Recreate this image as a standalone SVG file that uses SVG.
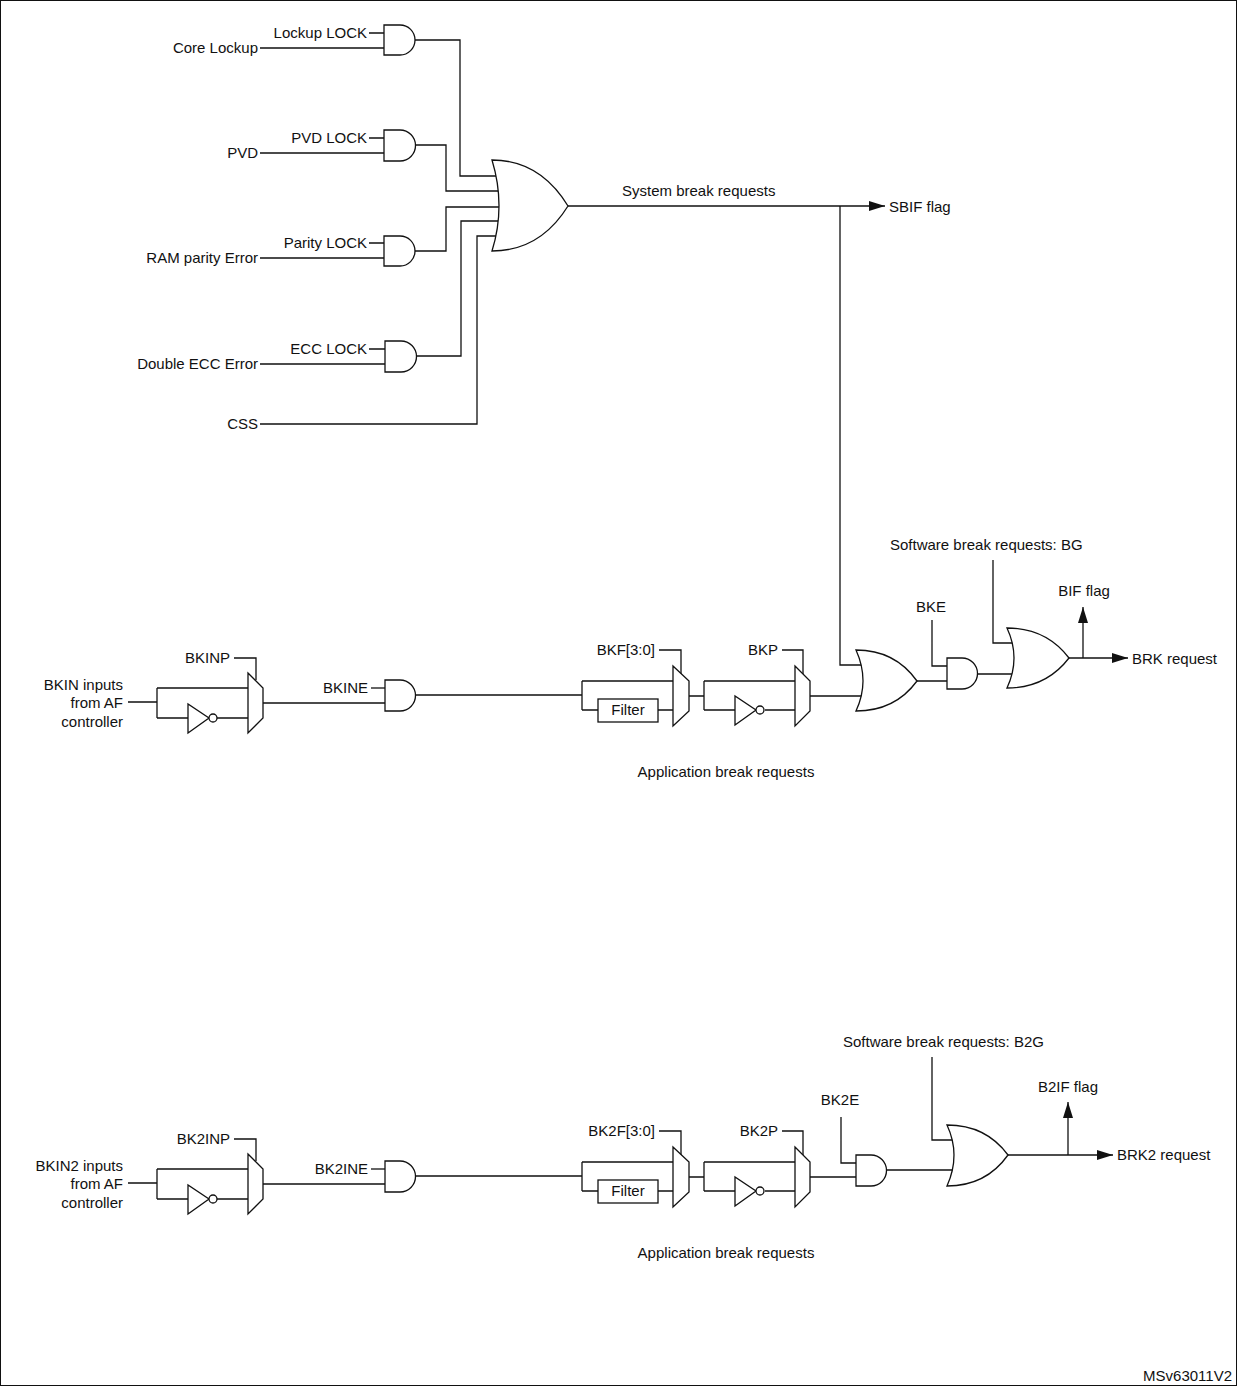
<svg xmlns="http://www.w3.org/2000/svg" width="1237" height="1386" viewBox="0 0 1237 1386">
<style>
text{font-family:"Liberation Sans",Arial,sans-serif;font-size:15px;fill:#111}
.r{text-anchor:end}.m{text-anchor:middle}
.w{fill:none;stroke:#111;stroke-width:1.3}
.g{fill:#fff;stroke:#111;stroke-width:1.3}
</style>
<defs>
<marker id="ar" viewBox="0 0 16 12" refX="16" refY="6" markerWidth="16" markerHeight="12" markerUnits="userSpaceOnUse" orient="auto"><path d="M0 1L16 6L0 11Z" fill="#111"/></marker>
<g id="bkrow">
<path class="w" d="M128 702H157M157 688V718M157 688H248M157 718H188M217 718H248M263 703H385M256 680V658H234"/>
<polygon class="g" points="188,704 188,733 209,718"/><circle class="g" cx="213" cy="718" r="4"/>
<polygon class="g" points="248,673 263,688 263,718 248,733"/>
<path class="w" d="M371 688H385"/>
<path class="g" d="M385 680H400A15.5 15.5 0 0 1 400 711H385Z"/>
<path class="w" d="M416 695H582M582 681V710M582 681H673M582 710H598M658 710H673M681 674V650H659"/>
<rect class="g" x="598" y="699" width="60" height="23"/>
<polygon class="g" points="673,666 689,681 689,711 673,726"/>
<path class="w" d="M689 696H704M704 681V710M704 681H795M704 710H735M765 710H795M803 674V650H782"/>
<polygon class="g" points="735,696 735,725 756,710"/><circle class="g" cx="760" cy="710" r="4"/>
<polygon class="g" points="795,666 810,681 810,711 795,726"/>
</g>
</defs>
<rect x="0.5" y="0.5" width="1236" height="1385" fill="#fff" stroke="#111"/>
<g id="connectors">
<path class="w" d="M260 48H384M369 33H384M415 40H460V176H505"/>
<path class="w" d="M260 153H384M369 138H384M415 145H446V191H505"/>
<path class="w" d="M260 258H384M369 243H384M415 251H446V207H505"/>
<path class="w" d="M260 364H385M369 349H385M416 356H461V221H505"/>
<path class="w" d="M260 424H477V236H505"/>
<path class="w" d="M568 206H885" marker-end="url(#ar)"/>
<path class="w" d="M840 206V665H866M810 696H872"/>
<path class="w" d="M917 681H947M932 620V666H947M977 674H1015M993 560V643H1015"/>
<path class="w" d="M1069 658H1128" marker-end="url(#ar)"/>
<path class="w" d="M1083 658V607" marker-end="url(#ar)"/>
<path class="w" d="M810 1177H856M841 1117V1163H856M886 1170H955M932 1057V1140H955"/>
<path class="w" d="M1008 1155H1113" marker-end="url(#ar)"/>
<path class="w" d="M1068 1155V1102" marker-end="url(#ar)"/>
</g>
<g id="and-lockup"><path class="g" d="M384 25H400A15 15 0 0 1 400 55H384Z"/></g>
<g id="and-pvd"><path class="g" d="M384 130H400A15.5 15.5 0 0 1 400 161H384Z"/></g>
<g id="and-parity"><path class="g" d="M384 236H400A15 15 0 0 1 400 266H384Z"/></g>
<g id="and-ecc"><path class="g" d="M385 341H401A15.5 15.5 0 0 1 401 372H385Z"/></g>
<g id="or-sys"><path class="g" d="M492 160Q540 160 568 206Q540 251 492 251Q506 206 492 160Z"/></g>
<g id="bk1"><use href="#bkrow"/></g>
<g id="bk2"><use href="#bkrow" transform="translate(0,481)"/></g>
<g id="or-bk"><path class="g" d="M856 650Q895 650 917 681Q895 711 856 711Q870 681 856 650Z"/></g>
<g id="and-bke"><path class="g" d="M947 658H962A15.5 15.5 0 0 1 962 689H947Z"/></g>
<g id="or-brk"><path class="g" d="M1007 628Q1046 628 1069 658Q1046 688 1007 688Q1021 658 1007 628Z"/></g>
<g id="and-bk2e"><path class="g" d="M856 1155H871A15.5 15.5 0 0 1 871 1186H856Z"/></g>
<g id="or-brk2"><path class="g" d="M947 1125Q986 1125 1008 1155Q986 1186 947 1186Q961 1155 947 1125Z"/></g>
<g id="labels">
<text x="367" y="38" class="r">Lockup LOCK</text>
<text x="258" y="53" class="r">Core Lockup</text>
<text x="367" y="143" class="r">PVD LOCK</text>
<text x="258" y="158" class="r">PVD</text>
<text x="367" y="248" class="r">Parity LOCK</text>
<text x="258" y="263" class="r">RAM parity Error</text>
<text x="367" y="354" class="r">ECC LOCK</text>
<text x="258" y="369" class="r">Double ECC Error</text>
<text x="258" y="429" class="r">CSS</text>
<text x="622" y="196">System break requests</text>
<text x="889" y="212">SBIF flag</text>
<text x="890" y="550">Software break requests: BG</text>
<text x="1084" y="596" class="m">BIF flag</text>
<text x="931" y="612" class="m">BKE</text>
<text x="1132" y="664">BRK request</text>
<text x="230" y="663" class="r">BKINP</text>
<text x="123" y="690" class="r">BKIN inputs</text>
<text x="123" y="708" class="r">from AF</text>
<text x="123" y="727" class="r">controller</text>
<text x="368" y="693" class="r">BKINE</text>
<text x="655" y="655" class="r">BKF[3:0]</text>
<text x="628" y="715" class="m">Filter</text>
<text x="778" y="655" class="r">BKP</text>
<text x="726" y="777" class="m">Application break requests</text>
<text x="843" y="1047">Software break requests: B2G</text>
<text x="1068" y="1092" class="m">B2IF flag</text>
<text x="840" y="1105" class="m">BK2E</text>
<text x="1117" y="1160">BRK2 request</text>
<text x="230" y="1144" class="r">BK2INP</text>
<text x="123" y="1171" class="r">BKIN2 inputs</text>
<text x="123" y="1189" class="r">from AF</text>
<text x="123" y="1208" class="r">controller</text>
<text x="368" y="1174" class="r">BK2INE</text>
<text x="655" y="1136" class="r">BK2F[3:0]</text>
<text x="628" y="1196" class="m">Filter</text>
<text x="778" y="1136" class="r">BK2P</text>
<text x="726" y="1258" class="m">Application break requests</text>
<text x="1232" y="1381" class="r">MSv63011V2</text>
</g>
</svg>
